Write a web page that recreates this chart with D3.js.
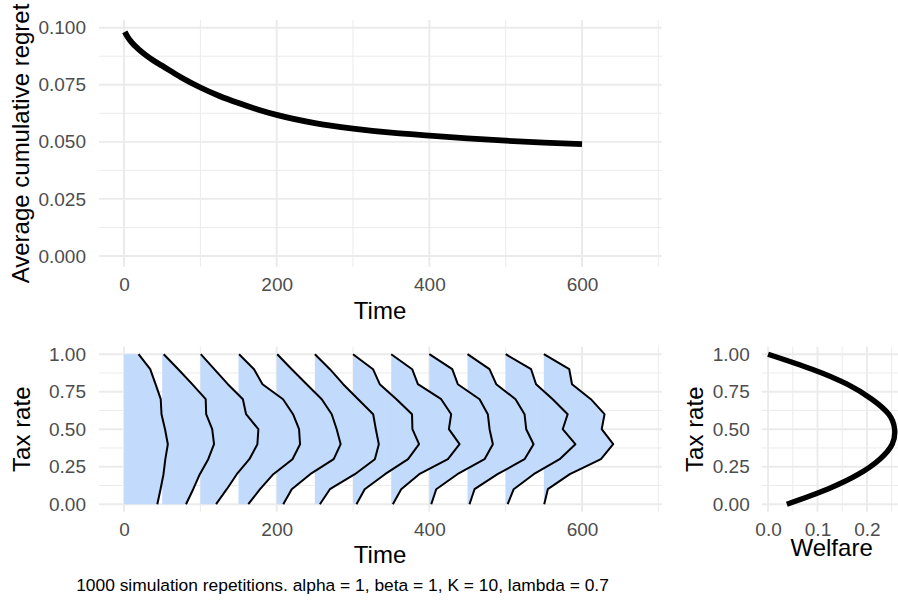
<!DOCTYPE html>
<html>
<head>
<meta charset="utf-8">
<script src="https://cdn.jsdelivr.net/npm/d3@7"></script>
<style>
  body { margin: 0; background: #fff; }
  svg text { font-family: "Liberation Sans", Arial, Helvetica, sans-serif; }
</style>
</head>
<body>
<svg id="chart" width="898" height="606"></svg>
<script>
// --- data ---
// top panel: average cumulative regret over time
const regretTime  = [1, 5, 10, 20, 30, 40, 50, 75, 100, 125, 150, 175, 200, 250, 300, 350, 400, 450, 500, 550, 600];
const regretValue = [0.0982, 0.0958, 0.0936, 0.0903, 0.0876, 0.0853, 0.0833, 0.0782, 0.0738, 0.0701, 0.0670, 0.0642, 0.0618, 0.0582, 0.0558, 0.0540, 0.0527, 0.0515, 0.0505, 0.0497, 0.0490];

// bottom left: distribution of chosen tax rates at several times
const ridgeStart = [0, 50, 100, 150, 200, 250, 300, 350, 400, 450, 500, 550];
const taxLevels  = [0, 0.1, 0.2, 0.3, 0.4, 0.5, 0.6, 0.7, 0.8, 0.9, 1.0];
// ridge width in Time units, one row per ridge, from tax 0 to tax 1
const ridgeWidth = [
  [43.6, 47.8, 51.7, 54.1, 57.4, 53.7, 49.1, 48.1, 41.3, 34.3, 19.0],
  [31.2, 40.6, 49.3, 60.3, 67.9, 65.5, 57.6, 57.0, 39.3, 21.0, 2.0],
  [20.6, 34.6, 47.7, 64.2, 74.7, 76.0, 59.9, 55.7, 36.0, 18.2, 0.5],
  [12.8, 28.2, 45.6, 70.7, 80.6, 79.3, 71.4, 58.3, 31.4, 20.3, 0.7],
  [8.6, 19.7, 43.9, 74.7, 83.8, 78.6, 72.1, 59.0, 39.3, 19.7, 0.7],
  [6.6, 19.7, 52.4, 78.6, 83.8, 79.9, 76.4, 56.7, 37.1, 19.7, 0],
  [4.5, 15.3, 41.9, 72.1, 86.5, 77.8, 77.3, 56.9, 35.0, 26.2, 0],
  [2.2, 13.1, 36.7, 74.3, 89.6, 75.6, 78.6, 65.5, 35.0, 27.5, 0],
  [2.5, 9.0, 36.7, 72.3, 83.2, 78.9, 76.6, 65.8, 37.3, 30.0, 0],
  [2.6, 9.2, 39.3, 74.7, 86.5, 76.9, 74.7, 62.9, 37.6, 28.8, 0],
  [2.6, 10.5, 36.7, 70.7, 91.3, 74.7, 81.2, 61.6, 39.8, 33.3, 0],
  [0.5, 5.2, 34.1, 74.8, 90.9, 75.8, 79.5, 61.6, 36.9, 33.3, 0]
];

// bottom right: welfare as a function of the tax rate
const welfareTax   = [0, 0.1, 0.2, 0.3, 0.4, 0.5, 0.6, 0.7, 0.8, 0.9, 1.0];
const welfareValue = [0.038, 0.120, 0.183, 0.226, 0.251, 0.256, 0.244, 0.210, 0.160, 0.089, 0.0];

// ticks
const timeTicks = [0, 200, 400, 600];
const timeMinor = [100, 300, 500, 700];
const regretTicks = [0, 0.025, 0.05, 0.075, 0.1];
const regretMinor = [0.0125, 0.0375, 0.0625, 0.0875];
const taxTicks = [0, 0.25, 0.5, 0.75, 1];
const taxMinor = [0.125, 0.375, 0.625, 0.875];
const welfareTicks = [0, 0.1, 0.2];
const welfareMinor = [0.05, 0.15, 0.25];

const caption = "1000 simulation repetitions. alpha = 1, beta = 1, K = 10, lambda = 0.7";

// --- scales (panel edges in pixels) ---
const xTime   = d3.scaleLinear().domain([-32.8, 704.4]).range([99, 661.7]);
const yRegret = d3.scaleLinear().domain([-0.00482, 0.10337]).range([267, 20]);
const yTax    = d3.scaleLinear().domain([-0.05, 1.05]).range([511.7, 346.7]);
const xWelf   = d3.scaleLinear().domain([-0.01285, 0.2699]).range([761.7, 901.5]);

const svg = d3.select("#chart");
const gridColor = "#ebebeb";
const tickColor = "#4d4d4d";

function inside(scale, v) {
  const [a, b] = d3.extent(scale.domain());
  return v >= a && v <= b;
}

// draw grid lines of a panel
function drawGrid(xs, ys, xMaj, xMin, yMaj, yMin) {
  const g = svg.append("g");
  const [x0, x1] = xs.range();
  const [y0, y1] = ys.range();
  g.selectAll(null).data(yMin.filter(v => inside(ys, v))).join("line")
    .attr("x1", x0).attr("x2", x1).attr("y1", d => ys(d)).attr("y2", d => ys(d))
    .attr("stroke", gridColor).attr("stroke-width", 1);
  g.selectAll(null).data(xMin.filter(v => inside(xs, v))).join("line")
    .attr("y1", y0).attr("y2", y1).attr("x1", d => xs(d)).attr("x2", d => xs(d))
    .attr("stroke", gridColor).attr("stroke-width", 1);
  g.selectAll(null).data(yMaj).join("line")
    .attr("x1", x0).attr("x2", x1).attr("y1", d => ys(d)).attr("y2", d => ys(d))
    .attr("stroke", gridColor).attr("stroke-width", 1.9);
  g.selectAll(null).data(xMaj).join("line")
    .attr("y1", y0).attr("y2", y1).attr("x1", d => xs(d)).attr("x2", d => xs(d))
    .attr("stroke", gridColor).attr("stroke-width", 1.9);
}

function styleAxis(g) {
  g.select(".domain").remove();
  g.attr("font-family", null).attr("font-size", 19);
  g.selectAll("text").attr("fill", tickColor);
}

function drawAxes(xs, ys, xVals, xFmt, yVals, yFmt, yPad) {
  svg.append("g")
    .attr("transform", `translate(0,${ys.range()[0]})`)
    .call(d3.axisBottom(xs).tickValues(xVals).tickFormat(xFmt).tickSize(0).tickPadding(11))
    .call(styleAxis);
  svg.append("g")
    .attr("transform", `translate(${xs.range()[0]},0)`)
    .call(d3.axisLeft(ys).tickValues(yVals).tickFormat(yFmt).tickSize(0).tickPadding(yPad))
    .call(styleAxis);
}

function title(text, x, y, rotate) {
  svg.append("text")
    .attr("transform", rotate ? `translate(${x},${y}) rotate(-90)` : `translate(${x},${y})`)
    .attr("text-anchor", "middle")
    .attr("font-size", 24)
    .attr("fill", "#000")
    .text(text);
}

// --- top panel ---
drawGrid(xTime, yRegret, timeTicks, timeMinor, regretTicks, regretMinor);
const regretLine = d3.line()
  .x((d, i) => xTime(regretTime[i]))
  .y(d => yRegret(d))
  .curve(d3.curveMonotoneX);
svg.append("path")
  .attr("d", regretLine(regretValue))
  .attr("fill", "none").attr("stroke", "#000").attr("stroke-width", 5.8);
drawAxes(xTime, yRegret, timeTicks, d3.format("d"), regretTicks, d3.format(".3f"), 13);
title("Time", 380, 318.5, false);
title("Average cumulative regret", 28.5, 143.5, true);

// --- bottom left: ridges ---
drawGrid(xTime, yTax, timeTicks, timeMinor, taxTicks, taxMinor);
const ridges = ridgeStart.map((t, r) => taxLevels.map((tax, i) => ({ t: t, tax: tax, w: ridgeWidth[r][i] })));
const ridgeArea = d3.area()
  .y(d => yTax(d.tax))
  .x0(d => xTime(d.t))
  .x1(d => xTime(d.t + d.w));
const ridgeLine = d3.line()
  .y(d => yTax(d.tax))
  .x(d => xTime(d.t + d.w));
const ridgeG = svg.append("g");
ridgeG.selectAll(".fill").data(ridges).join("path")
  .attr("class", "fill")
  .attr("d", ridgeArea)
  .attr("fill", "#c2dafc");
ridgeG.selectAll(".edge").data(ridges).join("path")
  .attr("class", "edge")
  .attr("d", ridgeLine)
  .attr("fill", "none").attr("stroke", "#000").attr("stroke-width", 2)
  .attr("stroke-linejoin", "round");
drawAxes(xTime, yTax, timeTicks, d3.format("d"), taxTicks, d3.format(".2f"), 13);
title("Time", 380, 562.5, false);
title("Tax rate", 29.5, 429.2, true);

// --- bottom right: welfare ---
drawGrid(xWelf, yTax, welfareTicks, welfareMinor, taxTicks, taxMinor);
const welfLine = d3.line()
  .x(d => xWelf(d))
  .y((d, i) => yTax(welfareTax[i]))
  .curve(d3.curveNatural);
svg.append("path")
  .attr("d", welfLine(welfareValue))
  .attr("fill", "none").attr("stroke", "#000").attr("stroke-width", 5.4);
drawAxes(xWelf, yTax, welfareTicks, d3.format(".1f"), taxTicks, d3.format(".2f"), 12);
title("Welfare", 831.6, 556, false);
title("Tax rate", 703, 429.2, true);

// caption
svg.append("text")
  .attr("x", 342.5).attr("y", 591)
  .attr("text-anchor", "middle")
  .attr("font-size", 17.4)
  .attr("fill", "#000")
  .text(caption);
</script>
</body>
</html>
